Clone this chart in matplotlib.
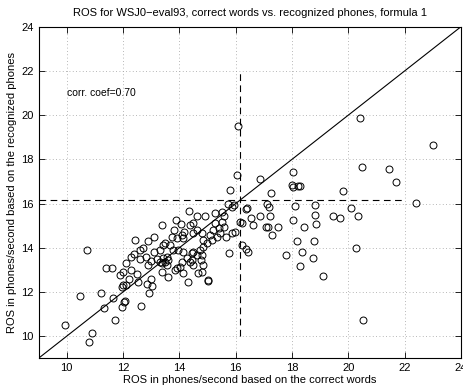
import matplotlib
matplotlib.use("Agg")
import matplotlib.pyplot as plt
import numpy as np

plt.rcParams['font.family'] = ['Liberation Sans', 'DejaVu Sans']

# x: ROS based on correct words, y: ROS based on recognized phones
x_vals = [
    22.99, 20.5, 21.44, 21.7, 19.82, 22.42, 18.82, 18.81, 20.09, 20.33, 19.44, 19.72, 18.29,
    16.1, 16.06, 16.87, 15.8, 17.26, 18.03, 18.0, 18.2, 18.03, 15.74, 15.94, 16.4, 17.1, 17.19, 18.09,
    16.37, 16.87, 17.22, 16.55, 16.63, 17.08, 17.16, 17.52, 17.3, 18.05, 18.41, 18.85,
    18.19, 18.79, 20.28, 18.37, 17.8, 18.73, 18.29, 19.11, 16.22, 16.37, 16.45, 15.78, 15.03, 14.32,
    9.94, 10.8, 10.89, 10.47, 11.23, 11.32, 11.66, 11.71, 11.98, 12.04, 12.07, 12.63, 12.93,
    11.97, 12.01, 12.1, 12.55, 12.84, 13.02, 15.03,
    14.36, 13.88, 14.05, 14.62, 14.92, 15.27, 15.51, 15.57, 15.86, 16.16, 16.22, 15.98, 15.86,
    15.66, 15.45, 15.42, 15.21, 15.27, 15.51, 15.57, 15.33, 15.09, 15.15, 14.97, 14.85, 14.83,
    14.74, 14.8, 14.76, 14.83, 14.68, 14.8, 14.5, 14.44, 14.38, 14.44, 14.27, 14.14, 14.09,
    14.03, 13.91, 13.85, 14.12, 14.5, 14.62, 14.17, 14.09, 14.14, 13.91, 13.73, 13.67, 13.43,
    13.37, 13.55, 13.43, 13.49, 13.37, 13.61, 13.55, 13.32, 13.79, 13.97, 14.62, 14.8, 14.5,
    14.38, 14.5,
    10.73, 11.4, 11.61, 12.43, 11.9, 12.1, 12.3, 12.6, 12.8, 13.0, 13.1, 12.5, 12.2, 12.9,
    13.2, 12.7, 13.3, 12.4, 13.5, 13.1, 12.9, 12.6, 12.3, 12.0, 13.0, 13.4, 13.6, 13.8,
    20.42, 20.52,
]
y_vals = [
    18.67, 17.64, 17.55, 16.98, 16.58, 16.03, 15.95, 15.5, 15.81, 15.45, 15.43, 15.33, 16.81,
    19.5, 17.29, 17.1, 16.6, 16.49, 17.44, 16.84, 16.8, 16.74, 15.97, 15.92, 15.79, 16.0, 15.86, 15.89,
    15.74, 15.45, 15.45, 15.33, 15.03, 14.93, 14.93, 14.93, 14.58, 15.26, 14.95, 15.08,
    14.31, 14.31, 14.0, 13.8, 13.67, 13.52, 13.16, 12.71, 14.13, 13.93, 13.82, 13.75, 12.54, 12.45,
    10.5, 9.74, 10.14, 11.82, 11.94, 11.29, 11.72, 10.73, 11.31, 11.55, 11.6, 11.38, 11.97,
    12.24, 12.32, 12.32, 12.47, 12.36, 12.29, 12.51,
    15.68, 15.26, 15.08, 15.44, 15.44, 15.56, 15.61, 15.44, 15.86, 15.18, 15.11, 14.73, 14.66,
    14.5, 14.66, 14.88, 14.81, 15.11, 15.18, 14.95, 14.5, 14.58, 14.35, 14.2, 14.35, 14.05,
    13.9, 13.67, 13.45, 13.22, 12.85, 12.92, 13.82, 13.75, 13.37, 13.45, 13.52, 13.82, 13.37,
    13.14, 13.07, 12.99, 12.85, 13.22, 13.67, 14.73, 14.58, 14.43, 14.43, 14.5, 14.13, 14.13,
    15.03, 13.6, 13.52, 13.37, 13.3, 13.45, 13.22, 13.37, 13.9, 13.9, 14.81, 14.66, 14.66,
    15.03, 15.11,
    13.9, 13.08, 13.08, 14.35, 12.77, 13.3, 13.0, 13.5, 13.6, 13.4, 13.8, 12.8, 12.6, 13.2,
    13.5, 14.0, 13.9, 13.7, 14.2, 14.5, 14.3, 13.9, 13.6, 12.9, 12.6, 12.9, 12.7, 14.8,
    19.85, 10.75,
]

mean_val = 16.15
dash_x_range = [9, 21.9]
dash_y_range = [10, 22]
corr_text = "corr. coef=0.70"

fig = plt.figure(figsize=(4.63, 3.86), dpi=100)
ax = fig.add_axes([38.5/463, 1-358.3/386, (461-38.5)/463, (358.3-26.7)/386])

ax.plot([9, 24], [9, 24], color='black', lw=0.8)
ax.plot(dash_x_range, [mean_val, mean_val], color='black', lw=0.8, ls=(0, (6, 4)))
ax.plot([mean_val, mean_val], dash_y_range, color='black', lw=0.8, ls=(0, (6, 4)))
ax.plot(x_vals, y_vals, ls='none', marker='o', ms=5, mfc='none', mec='black', mew=0.7)

ax.text(10.0, 21.0, corr_text, fontsize=7.5, va='center', ha='left')

ax.set_xlim(9, 24)
ax.set_ylim(9, 24)
ax.set_xticks(np.arange(10, 25, 2))
ax.set_yticks(np.arange(10, 25, 2))
ax.grid(True, color='#a0a0a0', ls=(0, (1, 3)), lw=0.6)
ax.tick_params(direction='in', top=True, right=True, labelsize=8, length=4, width=0.6)
for s in ax.spines.values():
    s.set_linewidth(0.8)

ax.set_title("ROS for WSJ0\u2212eval93, correct words vs. recognized phones, formula 1", fontsize=8, pad=8)
ax.set_xlabel("ROS in phones/second based on the correct words", fontsize=8, labelpad=1)
ax.set_ylabel("ROS in phones/second based on the recognized phones", fontsize=8, labelpad=3)

fig.savefig("out.png", dpi=100)
